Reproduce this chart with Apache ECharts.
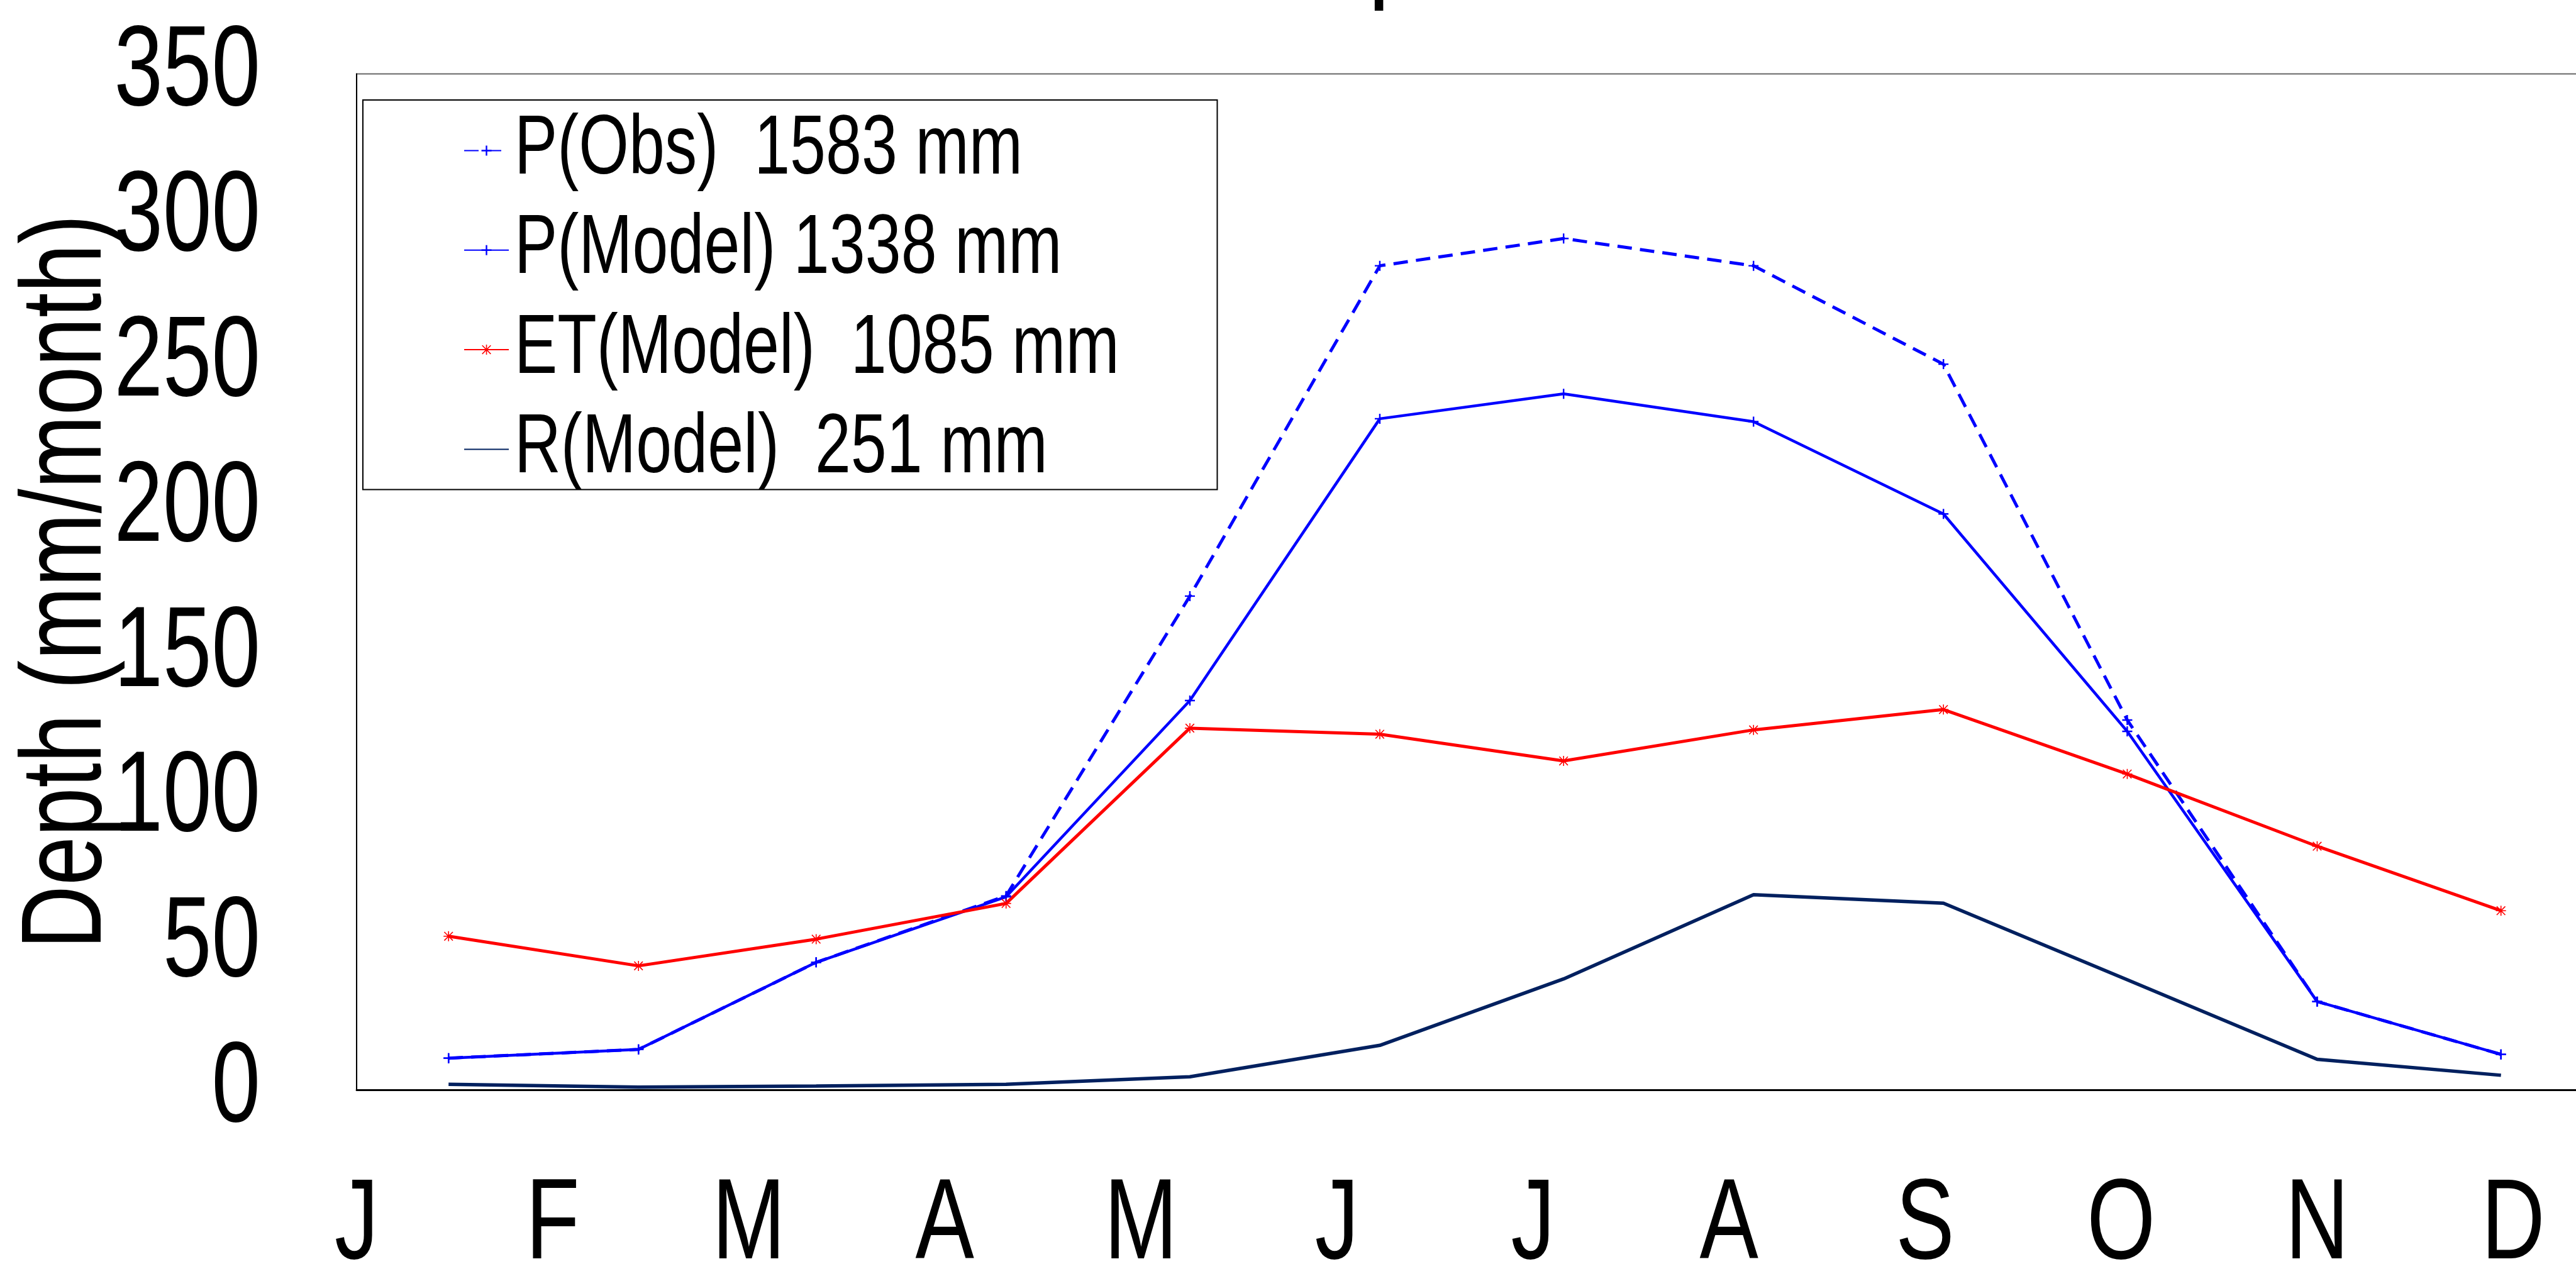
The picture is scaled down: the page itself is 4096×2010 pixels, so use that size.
<!DOCTYPE html>
<html><head><meta charset="utf-8">
<style>html,body{margin:0;padding:0;background:#fff;}#c{width:4096px;height:2010px;}</style>
<script src="https://cdn.jsdelivr.net/npm/echarts@6/dist/echarts.min.js"></script>
</head><body><div id="c"></div>
<script>
// ---- data ----
const monthLabels = ['J','F','M','A','M','J','J','A','S','O','N','D'];
const dayOfYear   = [15, 46, 75, 106, 136, 167, 197, 228, 259, 289, 320, 350];
const pObs    = [10.9, 13.9, 43.9, 66.8, 170.1, 283.9, 293.3, 283.9, 250.0, 127.4, 30.4, 12.2];
const pModel  = [10.9, 13.9, 43.9, 66.5, 134.1, 231.2, 239.8, 230.2, 198.4, 123.5, 30.4, 12.2];
const etModel = [52.9, 42.7, 51.9, 64.2, 124.6, 122.5, 113.3, 124.0, 131.0, 108.8, 83.9, 61.7];
const rModel  = [1.9, 0.9, 1.3, 1.9, 4.5, 15.3, 38.2, 67.2, 64.3, 37.9, 10.5, 5.0];
const seriesNames = ['P(Obs)  1583 mm', 'P(Model) 1338 mm', 'ET(Model)  1085 mm', 'R(Model)  251 mm'];
const yAxisName = 'Depth (mm/month)';
const titleText = 'p';
const yMin = 0, yMax = 350, yInterval = 50;
const xMin = 0, xMax = 366, xInterval = 32;   // month labels every 32 days

const FONT = '"Liberation Sans", Arial, Helvetica, sans-serif';
const CONDENSE = 0.77;   // the reference uses a narrow Helvetica
const S = 0.988;
const pair = (xs, ys) => xs.map((x, i) => [x, ys[i]]);

const PLUS = 'path://M0,8.5L20,8.5L20,11.5L0,11.5ZM8.5,0L11.5,0L11.5,20L8.5,20Z';
const STAR = 'path://M0,9L20,9L20,11L0,11ZM9,0L11,0L11,20L9,20ZM2.2,0.8L19.2,17.8L17.8,19.2L0.8,2.2ZM17.8,0.8L19.2,2.2L2.2,19.2L0.8,17.8Z';

const chart = echarts.init(document.getElementById('c'), null, {renderer: 'canvas'});
chart.setOption({
  animation: false,
  backgroundColor: '#fff',
  graphic: [
    {type: 'text', x: 2175.5, y: -80, silent: true, z: 10,
     style: {text: titleText, fontSize: 200, fontFamily: FONT, fill: '#000',
             textAlign: 'left', textVerticalAlign: 'middle', align: 'left', verticalAlign: 'middle'}},
    {type: 'rect', shape: {x: 584 * S, y: 161 * S, width: 1375 * S, height: 627 * S},
     style: {fill: '#fff', stroke: '#000', lineWidth: 2}, z: 3, silent: true}
  ],
  grid: {
    left: 574 * S, top: 119 * S, width: 366 * 9.86 * S, height: (1754 - 119) * S,
    outerBoundsMode: 'none', containLabel: false,
    show: true, borderColor: '#666', borderWidth: 2, backgroundColor: 'transparent'
  },
  legend: {
    orient: 'vertical', left: 746 * S, top: 173,
    data: seriesNames,
    padding: 0,
    itemWidth: 71, itemHeight: 20, itemGap: 25.3,
    z: 4,
    textStyle: {fontSize: 133, lineHeight: 130, fontFamily: FONT, color: '#000', padding: [0, 0, 0, 5]}
  },
  xAxis: {
    type: 'value', min: xMin, max: xMax, interval: xInterval,
    axisLine: {show: true, lineStyle: {color: '#000', width: 3}},
    axisTick: {show: false}, splitLine: {show: false},
    axisLabel: {
      fontSize: 182, lineHeight: 182, fontFamily: FONT, color: '#000', margin: 127,
      formatter: v => (v % xInterval === 0 && v / xInterval < monthLabels.length) ? monthLabels[v / xInterval] : ''
    }
  },
  yAxis: {
    type: 'value', min: yMin, max: yMax, interval: yInterval,
    name: yAxisName, nameLocation: 'middle', nameGap: 366, nameMoveOverlap: false,
    nameTextStyle: {fontSize: 182, lineHeight: 182, fontFamily: FONT, color: '#000'},
    axisLine: {show: true, lineStyle: {color: '#000', width: 2}},
    axisTick: {show: false}, splitLine: {show: false},
    axisLabel: {fontSize: 181, lineHeight: 181, fontFamily: FONT, color: '#000', margin: 153,
                padding: [12, 0, 0, 0]}
  },
  series: [
    {name: seriesNames[0], type: 'line', data: pair(dayOfYear, pObs),
     symbol: PLUS, symbolSize: 16, showSymbol: true,
     lineStyle: {color: '#0000ff', width: 5, type: [23, 13], cap: 'butt'},
     itemStyle: {color: '#0000ff'}, z: 2},
    {name: seriesNames[1], type: 'line', data: pair(dayOfYear, pModel),
     symbol: PLUS, symbolSize: 16, showSymbol: true,
     lineStyle: {color: '#0000ff', width: 4.5}, itemStyle: {color: '#0000ff'}, z: 2},
    {name: seriesNames[2], type: 'line', data: pair(dayOfYear, etModel),
     symbol: STAR, symbolSize: 16, showSymbol: true,
     lineStyle: {color: '#ff0000', width: 5}, itemStyle: {color: '#ff0000'}, z: 2},
    {name: seriesNames[3], type: 'line', data: pair(dayOfYear, rModel),
     symbol: 'none', showSymbol: false,
     lineStyle: {color: '#00205f', width: 5.5}, itemStyle: {color: 'rgba(0,0,0,0)'}, z: 2}
  ]
});

// Narrow the text horizontally (the reference font is a condensed Helvetica).
(function condenseText() {
  const zr = chart.getZr();
  const list = zr.storage.getDisplayList(true);
  const done = new Set();
  list.forEach(d => {
    const t = (d.type === 'tspan' && d.parent) ? d.parent : null;
    if (!t || done.has(t)) return;
    done.add(t);
    t.originX = (t.style && t.style.x) || 0;
    t.originY = (t.style && t.style.y) || 0;
    t.scaleX = CONDENSE;
    t.markRedraw();
  });
  zr.refresh();
})();
</script></body></html>
